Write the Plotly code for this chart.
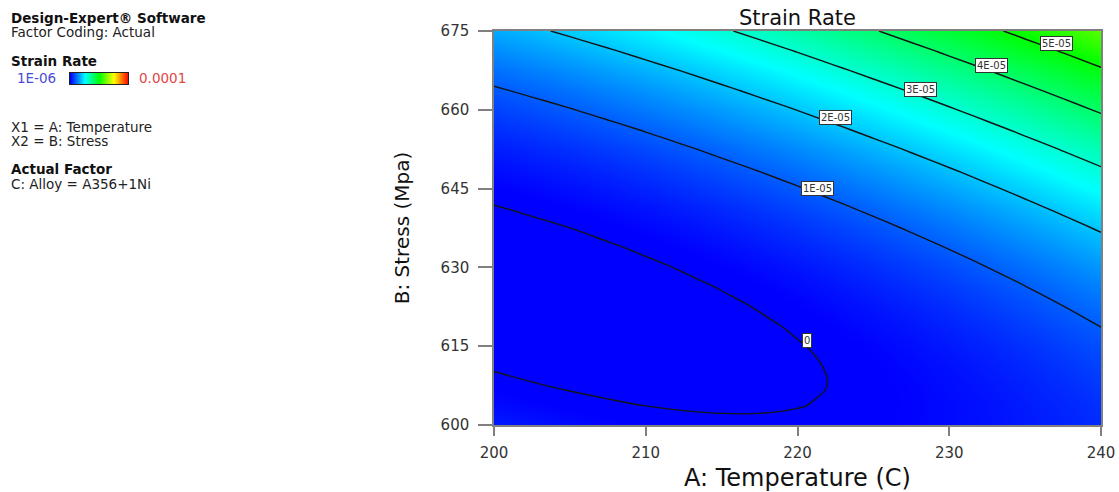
import plotly.graph_objects as go

# ---------------- data ----------------
temperature = [200, 202.5, 205, 207.5, 210, 212.5, 215, 217.5, 220,
               222.5, 225, 227.5, 230, 232.5, 235, 237.5, 240]          # A: Temperature (C)
stress = [600, 603.75, 607.5, 611.25, 615, 618.75, 622.5, 626.25, 630, 633.75,
          637.5, 641.25, 645, 648.75, 652.5, 656.25, 660, 663.75, 667.5, 671.25, 675]  # B: Stress (Mpa)

# Strain rate in units of 1E-05, one row per stress value
strain_rate_e5 = [
    [0.344, 0.2631, 0.1946, 0.1382, 0.0943, 0.0625, 0.0431, 0.0358, 0.041,
     0.0584, 0.0881, 0.1301, 0.1843, 0.2508, 0.3296, 0.4207, 0.524],
    [0.1969, 0.1284, 0.0722, 0.0282, -0.0035, -0.0229, -0.03, -0.0249, -0.0074,
     0.0223, 0.0644, 0.1187, 0.1853, 0.264, 0.3552, 0.4586, 0.5743],
    [0.0727, 0.0165, -0.0274, -0.059, -0.0783, -0.0854, -0.0802, -0.0627, -0.0329,
     0.0091, 0.0636, 0.1302, 0.2091, 0.3002, 0.4038, 0.5195, 0.6475],
    [-0.0286, -0.0724, -0.104, -0.1233, -0.1303, -0.125, -0.1074, -0.0777, -0.0355,
     0.0189, 0.0856, 0.1646, 0.2559, 0.3593, 0.4752, 0.6032, 0.7436],
    [-0.1071, -0.1386, -0.1578, -0.1648, -0.1594, -0.1418, -0.1119, -0.0698, -0.0153,
     0.0514, 0.1305, 0.2218, 0.3254, 0.4412, 0.5694, 0.7098, 0.8625],
    [-0.1627, -0.1819, -0.1887, -0.1834, -0.1657, -0.1357, -0.0935, -0.039, 0.0278,
     0.1068, 0.1983, 0.3019, 0.4179, 0.546, 0.6865, 0.8393, 1.0043],
    [-0.1955, -0.2023, -0.1969, -0.1792, -0.1491, -0.1068, -0.0523, 0.0145, 0.0937,
     0.1851, 0.2889, 0.4048, 0.5331, 0.6736, 0.8265, 0.9915, 1.1689],
    [-0.2054, -0.1999, -0.1821, -0.1521, -0.1097, -0.055, 0.0119, 0.091, 0.1825,
     0.2862, 0.4023, 0.5306, 0.6713, 0.8241, 0.9893, 1.1667, 1.3564],
    [-0.1925, -0.1747, -0.1445, -0.1022, -0.0474, 0.0195, 0.0988, 0.1902, 0.2941,
     0.4102, 0.5386, 0.6793, 0.8322, 0.9974, 1.1749, 1.3647, 1.5667],
    [-0.1567, -0.1265, -0.084, -0.0293, 0.0377, 0.117, 0.2086, 0.3124, 0.4286,
     0.557, 0.6978, 0.8508, 1.0161, 1.1935, 1.3834, 1.5855, 1.7999],
    [-0.098, -0.0555, -0.0007, 0.0664, 0.1458, 0.2374, 0.3413, 0.4575, 0.586,
     0.7267, 0.8799, 1.0452, 1.2228, 1.4126, 1.6149, 1.8293, 2.056],
    [-0.0165, 0.0384, 0.1055, 0.1849, 0.2766, 0.3806, 0.4969, 0.6253, 0.7662,
     0.9193, 1.0847, 1.2624, 1.4524, 1.6545, 1.8691, 2.0958, 2.3349],
    [0.0879, 0.1551, 0.2346, 0.3263, 0.4304, 0.5467, 0.6753, 0.8161, 0.9693,
     1.1347, 1.3125, 1.5025, 1.7048, 1.9193, 2.1462, 2.3853, 2.6367],
    [0.2152, 0.2947, 0.3866, 0.4906, 0.607, 0.7357, 0.8766, 1.0298, 1.1953,
     1.373, 1.5632, 1.7655, 1.9802, 2.207, 2.4462, 2.6977, 2.9614],
    [0.3653, 0.4572, 0.5613, 0.6777, 0.8065, 0.9475, 1.1007, 1.2662, 1.4441,
     1.6342, 1.8367, 2.0513, 2.2783, 2.5175, 2.7691, 3.0328, 3.3089],
    [0.5383, 0.6425, 0.759, 0.8877, 1.0288, 1.1822, 1.3478, 1.5256, 1.7158,
     1.9182, 2.133, 2.36, 2.5994, 2.8509, 3.1148, 3.3909, 3.6793],
    [0.7341, 0.8506, 0.9795, 1.1205, 1.274, 1.4396, 1.6176, 1.8077, 2.0103,
     2.2251, 2.4522, 2.6916, 2.9432, 3.2071, 3.4833, 3.7718, 4.0725],
    [0.9528, 1.0817, 1.2229, 1.3763, 1.542, 1.72, 1.9103, 2.1128, 2.3277,
     2.5548, 2.7943, 3.046, 3.31, 3.5861, 3.8747, 4.1755, 4.4886],
    [1.1943, 1.3355, 1.489, 1.6548, 1.8329, 2.0232, 2.2258, 2.4407, 2.6679,
     2.9073, 3.1592, 3.4232, 3.6995, 3.988, 4.289, 4.6021, 4.9275],
    [1.4587, 1.6123, 1.7781, 1.9562, 2.1466, 2.3493, 2.5643, 2.7914, 3.031,
     3.2828, 3.5469, 3.8233, 4.112, 4.4128, 4.7261, 5.0515, 5.3893],
    [1.746, 1.9119, 2.0901, 2.2805, 2.4833, 2.6983, 2.9256, 3.1651, 3.417,
     3.6811, 3.9576, 4.2463, 4.5473, 4.8605, 5.1861, 5.5239, 5.874],
]

# legend colour bar: low and high ends of the colour range (units of 1E-05)
legend_range_e5 = [0.1, 10]

contour_text = ["0", "1E-05", "2E-05", "3E-05", "4E-05", "5E-05"]
label_temperature = [220.6, 221.3, 222.5, 228.1, 232.8, 237.1]
label_stress = [616.0, 645.1, 658.6, 663.8, 668.5, 672.7]

x_ticks = [200, 210, 220, 230, 240]
y_ticks = [600, 615, 630, 645, 660, 675]

# ---------------- layout helpers ----------------
W, H = 1119, 492
R, T, B = 18, 31, 67
PLOT_LEFT = 494
PAPER_W = W - R
PAPER_H = H - T - B
FONT = "DejaVu Sans"


def px_x(px):
    return px / PAPER_W


def px_y(py):
    return (H - B - py) / PAPER_H


colorscale = [
    [0.0, "rgb(0,0,255)"],
    [0.25, "rgb(0,255,255)"],
    [0.5, "rgb(0,255,0)"],
    [0.75, "rgb(255,255,0)"],
    [1.0, "rgb(255,0,0)"],
]

fig = go.Figure()

fig.add_trace(go.Heatmap(
    x=temperature, y=stress, z=strain_rate_e5,
    zsmooth="best", colorscale=colorscale,
    zmin=legend_range_e5[0], zmax=legend_range_e5[1],
    showscale=False, hoverinfo="skip",
))

fig.add_trace(go.Contour(
    x=temperature, y=stress, z=strain_rate_e5,
    contours=dict(start=0, end=5, size=1, coloring="none"),
    line=dict(color="#141414", width=1.4, smoothing=1.0),
    showscale=False, hoverinfo="skip",
))

# small legend colour bar
fig.add_trace(go.Heatmap(
    x=[0, 1], y=[0], z=[legend_range_e5],
    zsmooth="best", colorscale=colorscale,
    zmin=legend_range_e5[0], zmax=legend_range_e5[1],
    showscale=False, hoverinfo="skip",
    xaxis="x2", yaxis="y2",
))

annotations = []
for txt, lx, ly in zip(contour_text, label_temperature, label_stress):
    annotations.append(dict(
        x=lx, y=ly, xref="x", yref="y", text=txt, showarrow=False,
        bgcolor="white", bordercolor="#333333", borderwidth=1, borderpad=1,
        font=dict(family=FONT, size=10, color="#333333"),
    ))

left_texts = [
    ("<b>Design-Expert® Software</b>", 9, 18, "#111111", 13.5),
    ("Factor Coding: Actual", 9, 32, "#222222", 13.5),
    ("<b>Strain Rate</b>", 9, 61, "#111111", 13.5),
    ("1E-06", 15, 78, "#4b4bd8", 13.5),
    ("0.0001", 137, 78, "#e24545", 13.5),
    ("X1 = A: Temperature", 9, 127, "#222222", 13.5),
    ("X2 = B: Stress", 9, 141, "#222222", 13.5),
    ("<b>Actual Factor</b>", 9, 169, "#111111", 13.5),
    ("C: Alloy = A356+1Ni", 9, 184, "#222222", 13.5),
]
for txt, x0, y0, col, sz in left_texts:
    annotations.append(dict(
        x=px_x(x0), y=px_y(y0), xref="paper", yref="paper",
        xanchor="left", yanchor="middle", text=txt, showarrow=False,
        font=dict(family=FONT, size=sz, color=col),
    ))

axis_common = dict(
    showgrid=False, zeroline=False,
    showline=True, linecolor="#808080", linewidth=1.5, mirror=True,
    ticks="outside", tickcolor="#808080", tickwidth=1.5,
    tickfont=dict(family=FONT, size=15, color="#333333"),
)

fig.update_layout(
    width=W, height=H,
    margin=dict(l=0, r=R, t=T, b=B, pad=0, autoexpand=False),
    paper_bgcolor="white", plot_bgcolor="white",
    font=dict(family=FONT),
    title=dict(
        text="Strain Rate", x=((PLOT_LEFT + PAPER_W) / 2) / W, xanchor="center",
        yref="container", y=1 - 18 / H, yanchor="middle",
        font=dict(family=FONT, size=21, color="#111111"),
    ),
    xaxis=dict(
        domain=[px_x(PLOT_LEFT), 1],
        range=[200, 240], tickvals=x_ticks, ticklen=9, ticklabelstandoff=4,
        title=dict(text="A: Temperature (C)", standoff=14,
                   font=dict(family=FONT, size=24, color="#111111")),
        **axis_common,
    ),
    yaxis=dict(
        range=[600, 675], tickvals=y_ticks, ticklen=14, ticklabelstandoff=6,
        title=dict(text="B: Stress (Mpa)", standoff=26,
                   font=dict(family=FONT, size=20, color="#111111")),
        **axis_common,
    ),
    xaxis2=dict(
        domain=[px_x(70), px_x(128)], range=[0, 1], anchor="y2",
        showticklabels=False, ticks="", showgrid=False, zeroline=False,
        showline=True, linecolor="#222222", linewidth=1, mirror=True,
    ),
    yaxis2=dict(
        domain=[px_y(84), px_y(73)], range=[-0.5, 0.5], anchor="x2",
        showticklabels=False, ticks="", showgrid=False, zeroline=False,
        showline=True, linecolor="#222222", linewidth=1, mirror=True,
    ),
    annotations=annotations,
    showlegend=False,
)

fig.write_html("out.html")
